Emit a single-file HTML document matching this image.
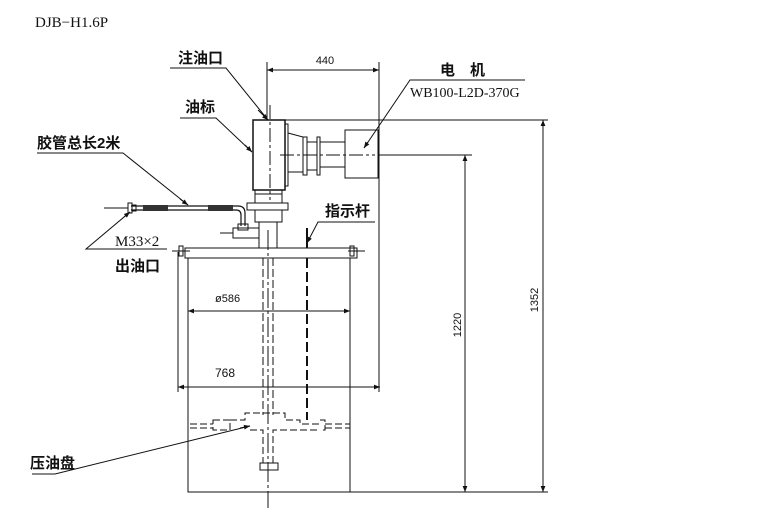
<!DOCTYPE html>
<html><head><meta charset="utf-8"><style>
html,body{margin:0;padding:0;background:#fff;}
svg{display:block}
.t{font-family:"Liberation Sans","Noto Sans CJK SC",sans-serif;fill:#111}
.s{font-family:"Liberation Serif","Noto Serif CJK SC",serif;fill:#111}
</style></head><body>
<svg width="780" height="515" viewBox="0 0 780 515" xmlns="http://www.w3.org/2000/svg">
<defs><marker id="a" viewBox="0 0 10 10" refX="10" refY="5" markerWidth="8" markerHeight="6" orient="auto-start-reverse"><path d="M0,1 L10,5 L0,9 z" fill="#111"/></marker></defs>
<rect width="780" height="515" fill="#fff"/>
<text x="35" y="27" class="s" font-size="15">DJB−H1.6P</text>
<g stroke="#111" fill="none" stroke-width="1">
<!-- top reference line & motor ext -->
<line x1="267" y1="120" x2="548" y2="120"/>
<line x1="378" y1="155" x2="472" y2="155"/>
<!-- 440 dimension -->
<line x1="267" y1="62" x2="267" y2="120"/>
<line x1="379" y1="62" x2="379" y2="392"/>
<line x1="267" y1="70" x2="379" y2="70" marker-start="url(#a)" marker-end="url(#a)"/>
<!-- 1220 / 1352 -->
<line x1="465" y1="155" x2="465" y2="492" marker-start="url(#a)" marker-end="url(#a)"/>
<line x1="543" y1="120" x2="543" y2="492" marker-start="url(#a)" marker-end="url(#a)"/>
<line x1="188" y1="492" x2="548" y2="492"/>
<!-- gearbox -->
<rect x="253" y="120" width="32" height="70" stroke-width="1.5"/>
<rect x="285" y="124" width="3" height="62"/>
<path d="M288,133 L303,137 L303,172 L288,172 z"/>
<rect x="303" y="137" width="4" height="38"/>
<rect x="317" y="137" width="3" height="38"/>
<line x1="307" y1="142" x2="317" y2="142"/><line x1="307" y1="170" x2="317" y2="170"/>
<rect x="320" y="142" width="25" height="25"/>
<rect x="345" y="130" width="33" height="48"/>
<line x1="280" y1="155" x2="375" y2="155" stroke-dasharray="14,3,3,3"/>
<!-- lower parts -->
<rect x="255" y="190" width="27" height="13"/>
<line x1="255" y1="194" x2="282" y2="194"/>
<rect x="247" y="203" width="41" height="7"/>
<rect x="255" y="210" width="27" height="12"/>
<rect x="259" y="222" width="18" height="26"/>
<rect x="233" y="228" width="26" height="10"/>
<line x1="220" y1="233" x2="233" y2="233"/>
<!-- hose -->
<path d="M131,206 L238,206 Q245,206 245,213 L245,226 M131,210 L236,210 Q241,210 241,215 L241,226" stroke-width="1.2"/>
<rect x="143" y="205" width="25" height="6" fill="#333" stroke="none"/>
<rect x="208" y="205" width="25" height="6" fill="#333" stroke="none"/>
<rect x="128" y="203" width="4" height="10"/><rect x="132" y="205" width="4" height="6"/>
<line x1="104" y1="208" x2="128" y2="208"/>
<rect x="238" y="224" width="10" height="6"/>
<!-- lid -->
<rect x="185" y="248" width="172" height="10"/>
<rect x="179" y="246" width="4" height="10"/><rect x="350" y="246" width="4" height="10"/>
<line x1="172" y1="251" x2="190" y2="251"/><line x1="348" y1="251" x2="365" y2="251"/>
<!-- indicator rod -->
<line x1="307" y1="228" x2="307" y2="248" stroke-width="2"/>
<!-- tank -->
<rect x="188" y="258" width="162" height="234"/>
<line x1="178" y1="252" x2="178" y2="392"/>
<line x1="178" y1="387" x2="380" y2="387" marker-start="url(#a)" marker-end="url(#a)"/>
<line x1="188" y1="311" x2="350" y2="311" marker-start="url(#a)" marker-end="url(#a)"/>
<!-- centre lines -->
<line x1="270" y1="105" x2="270" y2="200" stroke-dasharray="14,3,3,3"/>
<line x1="263" y1="258" x2="263" y2="415" stroke-dasharray="8,3"/>
<line x1="273" y1="258" x2="273" y2="415" stroke-dasharray="8,3"/>
<line x1="268" y1="230" x2="268" y2="508" stroke-dasharray="20,3,3,3"/>
<line x1="307" y1="258" x2="307" y2="420" stroke-dasharray="10,4" stroke-width="2"/>
<!-- pressure plate -->
<path d="M190,424 L213,424 M190,428 L213,428 M213,420 L230,420 L230,430 L213,430 z M230,420 L245,420 L245,413 L285,413 L285,420 L300,420 L300,424 L320,424 M320,420 L325,420 L325,430 L320,430 M325,424 L350,424 M325,428 L350,428 M250,430 L263,430 L263,463 M273,463 L273,430 L300,430 L320,430" stroke-dasharray="7,3"/>
<rect x="260" y="463" width="18" height="7"/>
<!-- leaders -->
<polyline points="170,68 226,68 268,120" /><line x1="258" y1="110" x2="268" y2="120" marker-end="url(#a)"/>
<polyline points="180,118 216,118 252,152"/><line x1="245" y1="145" x2="252" y2="152" marker-end="url(#a)"/>
<polyline points="37,153 123,153 188,205"/><line x1="180" y1="199" x2="188" y2="205" marker-end="url(#a)"/>
<polyline points="167,249 86,249 130,212"/><line x1="124" y1="217" x2="130" y2="212" marker-end="url(#a)"/>
<polyline points="375,222 318,222 307,243"/><line x1="310" y1="237" x2="307" y2="243" marker-end="url(#a)"/>
<polyline points="525,80 410,80 364,148"/><line x1="368" y1="142" x2="364" y2="148" marker-end="url(#a)"/>
<polyline points="32,474 55,474 250,426"/><line x1="240" y1="428" x2="250" y2="426" marker-end="url(#a)"/>
</g>
<text x="325" y="64" class="t" font-size="11" text-anchor="middle">440</text>
<text x="215" y="302" class="t" font-size="11">ø586</text>
<text x="215" y="377" class="t" font-size="12">768</text>
<text transform="translate(461,325) rotate(-90)" class="t" font-size="11" text-anchor="middle">1220</text>
<text transform="translate(538,300) rotate(-90)" class="t" font-size="11" text-anchor="middle">1352</text>
<text x="178" y="63" class="t" font-size="15" font-weight="bold">注油口</text>
<text x="185" y="112" class="t" font-size="15" font-weight="bold">油标</text>
<text x="37" y="148" class="t" font-size="15" font-weight="bold">胶管总长2米</text>
<text x="115" y="246" class="s" font-size="15">M33×2</text>
<text x="115" y="271" class="t" font-size="15" font-weight="bold">出油口</text>
<text x="325" y="216" class="t" font-size="15" font-weight="bold">指示杆</text>
<text x="440" y="75" class="t" font-size="15" font-weight="bold">电　机</text>
<text x="410" y="97" class="s" font-size="14">WB100-L2D-370G</text>
<text x="30" y="468" class="t" font-size="15" font-weight="bold">压油盘</text>
</svg>
</body></html>
